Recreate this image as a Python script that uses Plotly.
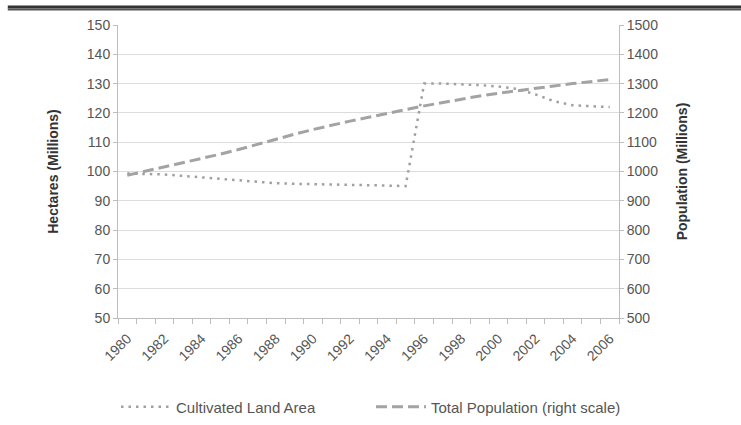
import plotly.graph_objects as go

years = list(range(1980, 2007))
land_area = [99.3, 99.2, 99.0, 98.5, 98.0, 97.3, 96.8, 96.3, 96.0, 95.8, 95.7, 95.7, 95.6,
             95.4, 95.2, 95.0, 130.0, 130.0, 129.8, 129.5, 129.0, 128.2, 126.3, 124.0,
             122.6, 122.3, 122.0]
population = [987, 1001, 1017, 1030, 1044, 1059, 1075, 1093, 1110, 1127, 1143, 1158, 1172,
              1185, 1199, 1211, 1224, 1236, 1248, 1258, 1267, 1276, 1285, 1292, 1300, 1308, 1314]
xtick_labels = [str(y) for y in range(1980, 2007, 2)]
left_ticks = list(range(50, 151, 10))
right_ticks = list(range(500, 1501, 100))

fig = go.Figure()
fig.add_trace(go.Scatter(x=years, y=land_area, name="Cultivated Land Area", mode="lines",
                         legend="legend",
                         line=dict(color="#a0a0a0", width=2.5, dash="2.5px,5px")))
fig.add_trace(go.Scatter(x=years, y=population, name="Total Population (right scale)",
                         mode="lines", yaxis="y2", legend="legend2",
                         line=dict(color="#a3a3a3", width=3, dash="11px,5px")))

font = "Liberation Sans, Arial, sans-serif"
leg_common = dict(orientation="h", y=-0.304, yanchor="middle", xanchor="left",
                  font=dict(size=15, color="#555555"), itemwidth=50,
                  bgcolor="rgba(0,0,0,0)")
fig.update_layout(
    width=741, height=425,
    margin=dict(l=118, r=122, t=25, b=107, autoexpand=False),
    paper_bgcolor="white", plot_bgcolor="white",
    font=dict(family=font, color="#555555", size=13),
    showlegend=True,
    legend=dict(x=-0.004, **leg_common),
    legend2=dict(x=0.505, **leg_common),
    xaxis=dict(range=[1979.5, 2006.5], tickmode="array", automargin=False,
               tickvals=[int(t) for t in xtick_labels], ticktext=xtick_labels,
               tickangle=-45, ticks="", showgrid=False, zeroline=False,
               ticklabelstandoff=6,
               showline=True, linecolor="#bdbdbd", linewidth=1,
               tickfont=dict(size=14, color="#555555"),
               minor=dict(tick0=1979.5, dtick=1, ticks="outside", ticklen=5,
                          tickcolor="#bdbdbd", showgrid=False)),
    yaxis=dict(range=[50, 150], tickmode="array", tickvals=left_ticks, automargin=False,
               ticks="outside", ticklen=4, tickcolor="#bdbdbd",
               showgrid=True, gridcolor="#dcdcdc", gridwidth=1, zeroline=False,
               showline=True, linecolor="#bdbdbd", linewidth=1,
               tickfont=dict(size=14, color="#555555"),
               title=dict(text="<b>Hectares (Millions)</b>", standoff=24,
                          font=dict(size=14, color="#333333"))),
    yaxis2=dict(range=[500, 1500], tickmode="array", tickvals=right_ticks, automargin=False,
                overlaying="y", side="right", ticks="outside", ticklen=4,
                tickcolor="#bdbdbd", showgrid=False, zeroline=False,
                showline=True, linecolor="#bdbdbd", linewidth=1,
                tickfont=dict(size=14, color="#555555"),
                title=dict(text="<b>Population (Millions)</b>", standoff=20,
                           font=dict(size=14, color="#333333"))),
)

# header double rule
fig.add_shape(type="line", xref="paper", yref="paper", x0=-0.22, x1=1.25,
              y0=1 + 18 / 293, y1=1 + 18 / 293, line=dict(color="#333333", width=3))
fig.add_shape(type="line", xref="paper", yref="paper", x0=-0.22, x1=1.25,
              y0=1 + 15.5 / 293, y1=1 + 15.5 / 293, line=dict(color="#555555", width=2))

fig.write_html("out.html", config={"displayModeBar": False},
               post_script="document.body.style.margin='0';document.body.style.overflow='hidden';")
